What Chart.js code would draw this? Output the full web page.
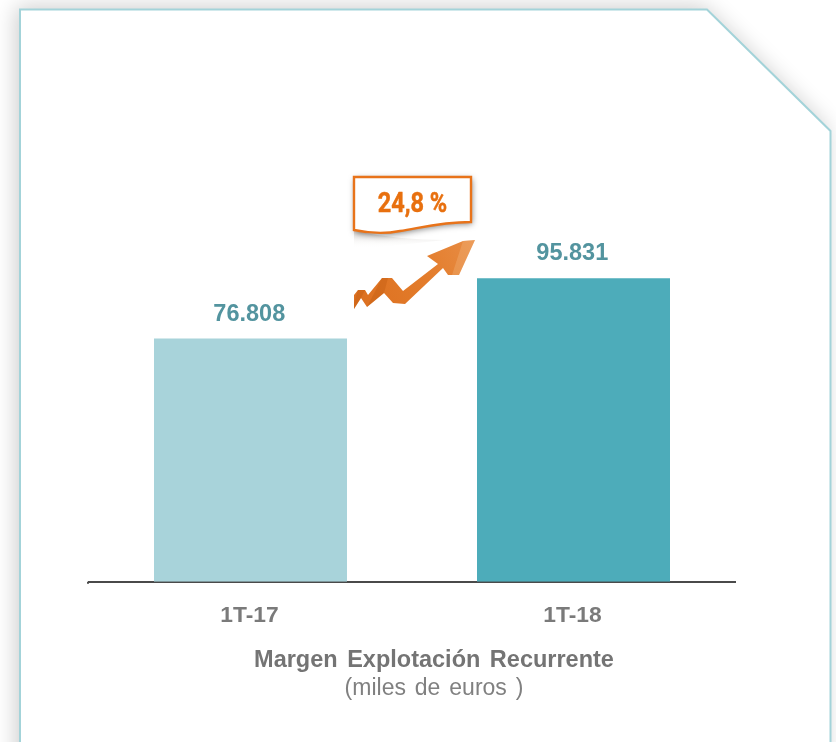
<!DOCTYPE html>
<html><head><meta charset="utf-8">
<style>html,body{margin:0;padding:0;background:#fff}canvas{display:block}#w{width:836px;height:742px;position:relative}</style>
<script src="https://cdn.jsdelivr.net/npm/chart.js@4"></script></head>
<body><div id="w"><canvas id="c" width="836" height="742"></canvas></div>
<script>
const categories = ['1T-17','1T-18'];
const values = [76808, 95831];
const valueLabels = ['76.808','95.831'];
const barColors = ['#a8d3da','#4dacba'];
const chartTitle = 'Margen Explotación Recurrente';
const chartSubtitle = '(miles de euros )';
const growthLabel = '24,8 %';

const poly=(c,p)=>{c.beginPath();p.forEach((q,i)=>i?c.lineTo(q[0],q[1]):c.moveTo(q[0],q[1]));c.closePath();};
const frame = {
  id:'frame',
  beforeDraw(ch){
    const c=ch.ctx; c.save();
    const path=()=>{c.beginPath();c.moveTo(20,800);c.lineTo(20,9.5);c.lineTo(707,9.5);c.lineTo(830.5,131);c.lineTo(830.5,800);};
    c.shadowColor='rgba(0,0,0,0.2)';c.shadowBlur=22;c.shadowOffsetX=-4;c.shadowOffsetY=-3;
    path();c.closePath();c.fillStyle='#fff';c.fill();
    c.shadowColor='transparent';
    path();c.strokeStyle='#a3d3d9';c.lineWidth=2;c.stroke();
    c.restore();
  }
};
const valueText = {
  id:'valueText',
  afterDatasetsDraw(ch){
    const c=ch.ctx; c.save();
    c.font='bold 23.5px "Liberation Sans",Arial,sans-serif';c.fillStyle='#53949f';c.textAlign='center';c.textBaseline='alphabetic';
    ch.getDatasetMeta(0).data.forEach((b,i)=>c.fillText(valueLabels[i],b.x-1.2,b.y-18));
    c.restore();
  }
};
const captions = {
  id:'captions',
  afterDraw(ch){
    const c=ch.ctx; c.save();
    c.strokeStyle='#4a4a4a';c.lineWidth=2;c.beginPath();c.moveTo(87,ch.chartArea.bottom+1);c.lineTo(ch.chartArea.left,ch.chartArea.bottom+1);c.stroke();
    c.textAlign='center';c.textBaseline='alphabetic';
    c.wordSpacing='3px';
    c.font='bold 23.5px "Liberation Sans",Arial,sans-serif';c.fillStyle='#747474';
    c.fillText(chartTitle,434,667);
    c.wordSpacing='2.5px';
    c.font='23px "Liberation Sans",Arial,sans-serif';c.fillStyle='#808080';
    c.fillText(chartSubtitle,434,695);
    c.restore();
  }
};
const callout = {
  id:'callout',
  afterDraw(ch){
    const c=ch.ctx; c.save();
    // reflected fade under the note
    let g=c.createLinearGradient(0,232,0,248);g.addColorStop(0,'rgba(150,140,130,.35)');g.addColorStop(1,'rgba(255,255,255,0)');
    c.fillStyle=g;c.beginPath();c.moveTo(354,231);c.quadraticCurveTo(400,240,445,240);c.lineTo(354,250);c.closePath();c.fill();
    // arrow
    g=c.createLinearGradient(354,300,475,240);g.addColorStop(0,'#dc7020');g.addColorStop(.55,'#e37c2b');g.addColorStop(1,'#e88d45');
    c.fillStyle=g;
    poly(c,[[354,295],[358,290],[365,290],[368,295],[382,278],[392,278],[403,291],[438,264],[427,256],[463,241],[475,240],[459,275],[448,275],[443,268],[405,304],[393,303],[384,293],[367,307],[361,298],[354,309]]);c.fill();
    // arrow folds
    c.fillStyle='rgba(190,90,15,.35)';
    poly(c,[[354,303],[358,290],[365,290],[361,298],[354,309]]);c.fill();
    poly(c,[[367,307],[382,278],[388,278],[384,293]]);c.fill();
    c.fillStyle='rgba(255,225,190,.18)';
    poly(c,[[475,240],[459,275],[452,275],[463,241]]);c.fill();
    // note
    c.shadowColor='rgba(0,0,0,.5)';c.shadowBlur=6;c.shadowOffsetX=1;c.shadowOffsetY=2;
    c.beginPath();c.moveTo(354,177);c.lineTo(471,177);c.lineTo(471,222);
    c.bezierCurveTo(440,222,420,228,400,231);c.bezierCurveTo(385,234,368,233,354,230);c.closePath();
    c.fillStyle='#fff';c.fill();
    c.shadowColor='transparent';c.strokeStyle='#e8731a';c.lineWidth=2.4;c.stroke();
    c.translate(412.5,211.5);c.scale(0.84,1);
    c.font='bold 28px Roboto,sans-serif';c.fillStyle='#e8700f';c.strokeStyle='#e8700f';c.lineWidth=0.5;c.textAlign='center';c.textBaseline='alphabetic';
    c.fillText(growthLabel,0,0);c.strokeText(growthLabel,0,0);
    c.restore();
  }
};
Chart.defaults.animation=false;
new Chart(document.getElementById('c'),{
  type:'bar',
  data:{labels:categories,datasets:[{data:values,backgroundColor:barColors,borderWidth:0,barPercentage:1,categoryPercentage:0.5975}]},
  plugins:[frame,valueText,captions,callout],
  options:{
    responsive:false,animation:false,
    layout:{padding:{left:89,right:101,top:0,bottom:101}},
    plugins:{legend:{display:false},tooltip:{enabled:false}},
    scales:{
      x:{grid:{display:false},border:{display:true,color:'#4a4a4a',width:2},
        ticks:{color:'#7a7a7a',padding:12,labelOffset:-1,font:{family:'"Liberation Sans",Arial,sans-serif',size:22.8,weight:'bold'}}},
      y:{display:false,min:0,max:183750}
    }
  }
});
</script></body></html>
